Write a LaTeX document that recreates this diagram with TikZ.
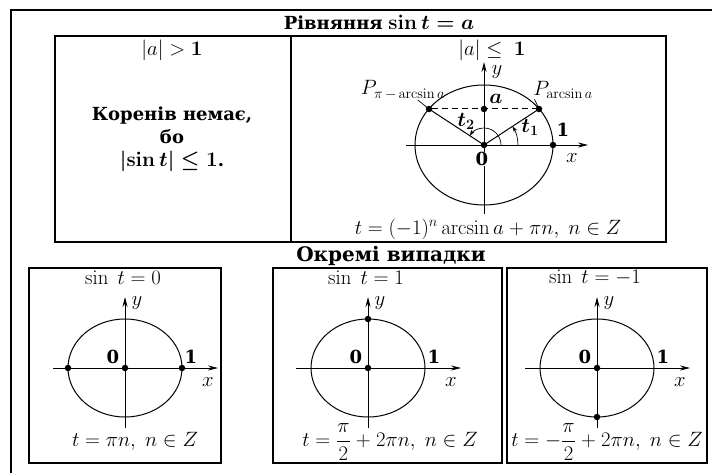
\documentclass[tikz,border=0pt]{standalone}
\usepackage{amsmath}
\usepackage[no-math]{fontspec}
\setmainfont{DejaVu Serif}
\usetikzlibrary{arrows.meta, positioning}
\DeclareMathSizes{18}{20.74}{14.4}{12}
\thickmuskip=5mu plus 3mu
\medmuskip=4.5mu plus 2mu

\begin{document}
\begin{tikzpicture}[
    x=1pt, y=-1pt,
    font=\fontsize{18}{20}\selectfont,
    % styles
    outer/.style={draw, line width=1.2pt},
    panel/.style={draw, line width=1.2pt, inner sep=0pt},
    axis/.style={-{Stealth[length=10pt, width=5pt]}, line width=0.9pt},
    ring/.style={line width=1pt},
    dot/.style={circle, fill=black, inner sep=0pt, minimum size=6.5pt},
    turn/.style={-{Stealth[length=6pt, width=4pt]}, line width=0.7pt},
    lbl/.style={inner sep=0.5pt}
]
    \useasboundingbox (0,0) rectangle (712,473);

    % --- outer frame ---
    \draw[outer] (716,10) -- (11,10) -- (11,476);
    \node (title) [inner sep=1pt] at (379,22)
        {\textbf{Рівняння} $\boldsymbol{\sin t = a}$};

    % --- upper panels ---
    \node (noCase) [panel, minimum width=236pt, minimum height=206pt] at (173,139) {};
    \node (yesCase) [panel, minimum width=375pt, minimum height=206pt] at (478.5,139) {};
    \node (noHead) [inner sep=1pt] at (172,50) {$|a| > \mathbf{1}$};
    \node (yesHead) [inner sep=1pt] at (492,50) {$|a| \le\ \mathbf{1}$};
    \node (noText) [align=center, font=\fontsize{18}{23}\selectfont\bfseries] at (172,139)
        {Коренів немає,\\бо\\$\boldsymbol{\lvert\sin t\rvert \le 1}$.};

    % circle with arcsin points
    \coordinate (O) at (484,145);
    \coordinate (xL) at (406,145);
    \coordinate (xR) at (588,145);
    \coordinate (yB) at (484,214);
    \coordinate (yT) at (484,62);
    \draw[ring] (O) ellipse [x radius=69, y radius=60];
    \draw[axis] (xL) -- (xR);
    \draw[axis] (yB) -- (yT);
    \node (pOne) [dot] at (539,109) {};
    \node (pTwo) [dot] at (429,109) {};
    \node (dA) [dot] at (484,109) {};
    \node (dO) [dot] at (O) {};
    \node (dOne) [dot] at (553,145) {};
    \draw[line width=1pt, dash pattern=on 6pt off 4pt] (pTwo) -- (pOne);
    \draw[line width=1pt] (dO.center) -- (pOne.center);
    \draw[line width=1pt] (dO.center) -- (pTwo.center);
    \draw[turn] (518,145) arc[start angle=0, end angle=-33.2, radius=34];
    \draw[turn] (501,145) arc[start angle=0, end angle=-146.8, radius=17];
    \node (tOne) [lbl] at (530,127) {$\boldsymbol{t_1}$};
    \node (tTwo) [lbl] at (466,121) {$\boldsymbol{t_2}$};
    \node (aLbl) [lbl] at (496,99) {$\boldsymbol{a}$};
    \node (oneLbl) [lbl] at (563,130) {\textbf{1}};
    \node (zeroLbl) [lbl, fill=white] at (482,159) {\textbf{0}};
    \node (xLbl) [lbl] at (572,158) {$x$};
    \node (yLbl) [lbl] at (497,72) {$y$};
    \node (pRight) [lbl] at (563,90) {$P_{\arcsin a}$};
    \node (pLeft) [lbl] at (403,90) {$P_{\pi\,-\,\arcsin a}$};
    \draw[line width=0.7pt] ([xshift=2pt]pRight.south west) -- (pOne.center);
    \draw[line width=0.7pt] ([xshift=-28pt]pLeft.south east) -- (pTwo.center);
    \node (genSol) at (488,229) {$t = (-1)^n\arcsin a + \pi n,\ n \in Z$};

    % --- special cases ---
    \node (special) [font=\fontsize{20}{22}\selectfont] at (391,256) {\textbf{Окремі випадки}};
    \node (zeroCase) [panel, minimum width=192pt, minimum height=195pt] at (125,365.5) {};
    \node (upCase) [panel, minimum width=229pt, minimum height=195pt] at (387.5,365.5) {};
    \node (downCase) [panel, minimum width=200pt, minimum height=195pt] at (607,365.5) {};

    \foreach \cx/\nm in {125/A, 368/B, 597/C} {
        \coordinate (O\nm) at (\cx,368);
        \coordinate (xL\nm) at (\cx-72,368);
        \coordinate (xR\nm) at (\cx+93,368);
        \coordinate (yB\nm) at (\cx,428);
        \coordinate (yT\nm) at (\cx,297);
        \draw[ring] (O\nm) ellipse [x radius=57, y radius=49];
        \draw[axis] (xL\nm) -- (xR\nm);
        \draw[axis] (yB\nm) -- (yT\nm);
        \node (d\nm) [dot] at (O\nm) {};
        \node (zero\nm) [lbl] at (\cx-12,357) {\textbf{0}};
        \node (one\nm) [lbl] at (\cx+66,357) {\textbf{1}};
        \node (x\nm) [lbl] at (\cx+83,382) {$x$};
        \node (y\nm) [lbl] at (\cx+12,303) {$y$};
    }
    \node (dAl) [dot] at (68,368) {};
    \node (dAr) [dot] at (182,368) {};
    \node (dBt) [dot] at (368,319) {};
    \node (dCb) [dot] at (597,417) {};

    \node (headA) [inner sep=1pt] at (123,278) {$\sin\ t = 0$};
    \node (headB) [inner sep=1pt] at (366,278) {$\sin\ t = 1$};
    \node (headC) [inner sep=1pt] at (595,278) {$\sin\ t = -1$};
    \node (solA) at (135,441) {$t = \pi n,\ n \in Z$};
    \node (solB) at (390,442) {$t = \dfrac{\pi}{2} + 2\pi n,\ n \in Z$};
    \node (solC) at (607,442) {$t = -\dfrac{\pi}{2} + 2\pi n,\ n \in Z$};
\end{tikzpicture}
\end{document}
